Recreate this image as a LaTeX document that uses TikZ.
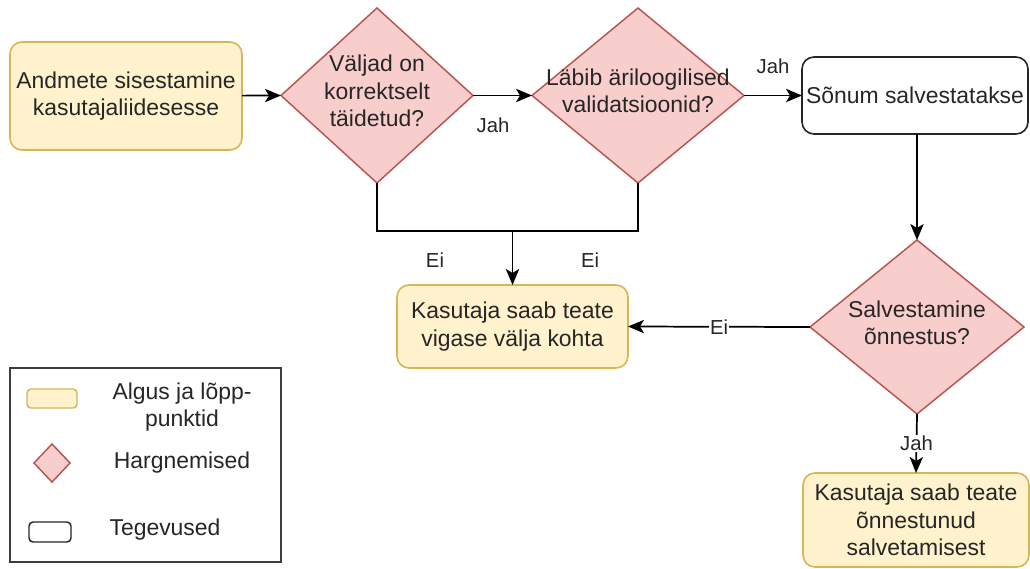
\documentclass[tikz,border=0pt]{standalone}
\usepackage{fontspec}
\setmainfont{Liberation Sans}
\usetikzlibrary{shapes.geometric,arrows.meta}
\definecolor{termfill}{HTML}{FFF2CC}
\definecolor{termline}{HTML}{D6B656}
\definecolor{decfill}{HTML}{F8CECC}
\definecolor{decline}{HTML}{B85450}
\definecolor{ink}{HTML}{262626}
\tikzset{
  txt/.style={font=\fontsize{17.2}{20.6}\selectfont, text=ink, align=center, inner sep=0pt},
  term/.style={draw=termline, fill=termfill, rounded corners=9pt, line width=1.2pt, outer sep=0pt, inner sep=0pt},
  act/.style={draw=ink, fill=white, rounded corners=9pt, line width=1.2pt, outer sep=0pt, inner sep=0pt},
  dec/.style={diamond, draw=decline, fill=decfill, line width=1.1pt, outer sep=0pt, inner sep=0pt},
  flow/.style={draw=black, line width=1.3pt, -{Stealth[length=12pt,width=10pt,inset=3pt]}},
  link/.style={draw=black, line width=1.3pt},
  lbl/.style={font=\fontsize{15.2}{18}\selectfont, text=ink, inner sep=1pt},
  lblbg/.style={lbl, fill=white},
}
\begin{document}
\begin{tikzpicture}[x=0.75pt, y=-0.75pt]
  \useasboundingbox (0,0) rectangle (1030,568);

  % flow shapes
  \node[term, minimum width=174pt, minimum height=81pt] (start) at (126,96) {};
  \node[txt] at (start) {Andmete sisestamine\\kasutajaliidesesse};

  \node[dec, minimum width=144pt, minimum height=131.25pt] (d1) at (377,95.5) {};
  \node[txt] at (377,91) {Väljad on\\korrektselt\\täidetud?};

  \node[dec, minimum width=159pt, minimum height=131.25pt] (d2) at (638,95.5) {};
  \node[txt] at (638,91) {Läbib äriloogilised\\validatsioonid?};

  \node[act, minimum width=169.5pt, minimum height=57.75pt] (save) at (915,95.5) {};
  \node[txt] at (save) {Sõnum salvestatakse};

  \node[dec, minimum width=160.5pt, minimum height=130.5pt] (d3) at (917,327) {};
  \node[txt] at (917,323) {Salvestamine\\õnnestus?};

  \node[term, minimum width=173.25pt, minimum height=62.25pt] (err) at (512.5,326.5) {};
  \node[txt] at (err) {Kasutaja saab teate\\vigase välja kohta};

  \node[term, minimum width=169.5pt, minimum height=70.5pt] (ok) at (916,520) {};
  \node[txt] at (ok) {Kasutaja saab teate\\õnnestunud\\salvetamisest};

  % connectors
  \coordinate (j) at (512.5,231);
  \draw[flow] (start) -- (d1.west);
  \draw[flow] (d1.east) -- (d2.west);
  \draw[flow] (d2.east) -- (save.west);
  \draw[flow] (d3.north |- save.south) -- (d3.north);
  \draw[link] (d1.south) |- (j);
  \draw[link] (d2.south) |- (j);
  \draw[flow] (j) -- (err.north);
  \draw[flow] (d3.west) -- node[lblbg] {Ei} (err.east);
  \draw[flow] (d3.south) -- node[lblbg, pos=0.5] {Jah} (ok.north);

  \node[lbl] (l1) at (493,125) {Jah};
  \node[lbl] (l2) at (773,66) {Jah};
  \node[lbl] (l3) at (435,260) {Ei};
  \node[lbl] (l4) at (590,260) {Ei};

  % legend
  \draw[draw=ink!90, line width=1.6pt] (10,368) rectangle (281,562);
  \draw[draw=termline, fill=termfill, line width=1.1pt, rounded corners=3pt] (27,389) rectangle (77,408);
  \node[dec, minimum width=27pt, minimum height=28.5pt] (kd) at (52,463) {};
  \draw[draw=ink, fill=white, line width=1.1pt, rounded corners=3pt] (29,522) rectangle (71,542);
  \node[txt] (k1) at (182,407) {Algus ja lõpp-\\punktid};
  \node[txt] (k2) at (182,463) {Hargnemised};
  \node[txt] (k3) at (165,530) {Tegevused};
\end{tikzpicture}
\end{document}
